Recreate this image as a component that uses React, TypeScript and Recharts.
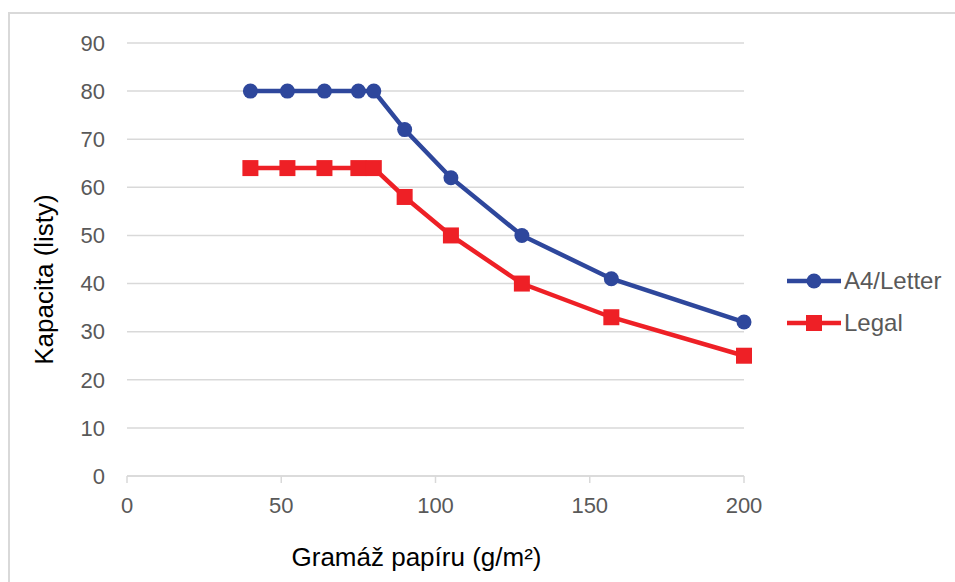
import React from "react";
import {
  LineChart,
  Line,
  XAxis,
  YAxis,
  CartesianGrid,
} from "recharts";

const gramaz = [40, 52, 64, 75, 80, 90, 105, 128, 157, 200];
const a4Letter = [80, 80, 80, 80, 80, 72, 62, 50, 41, 32];
const legal = [64, 64, 64, 64, 64, 58, 50, 40, 33, 25];
const xTicks = [0, 50, 100, 150, 200];
const yTicks = [0, 10, 20, 30, 40, 50, 60, 70, 80, 90];

const BLUE = "#2E479C";
const RED = "#EE2026";
const FONT = "'Liberation Sans', Arial, sans-serif";

const data = gramaz.map((g, i) => ({ g, a4: a4Letter[i], legal: legal[i] }));

const SquareDot = (props: any) => {
  const { cx, cy } = props;
  if (cx == null || cy == null) return null;
  return <rect x={cx - 8} y={cy - 8} width={16} height={16} fill={RED} />;
};

const YTitle = ({ viewBox }: any) => {
  const cy = viewBox.y + viewBox.height / 2 + 20;
  return (
    <text
      x={44}
      y={cy}
      transform={`rotate(-90, 44, ${cy})`}
      textAnchor="middle"
      dominantBaseline="central"
      fontSize={26}
      fontFamily={FONT}
      fill="#000"
    >
      Kapacita (listy)
    </text>
  );
};

const XTitle = ({ viewBox }: any) => {
  const cx = viewBox.x + viewBox.width / 2 - 19;
  return (
    <text
      x={cx}
      y={557}
      textAnchor="middle"
      dominantBaseline="central"
      fontSize={26}
      fontFamily={FONT}
      fill="#000"
    >
      Gramáž papíru (g/m²)
    </text>
  );
};

const legendItems = [
  { name: "A4/Letter", color: BLUE, shape: "circle", y: 281 },
  { name: "Legal", color: RED, shape: "square", y: 323 },
];

export default function App() {
  return (
    <div
      style={{
        position: "fixed",
        left: 0,
        top: 0,
        width: 955,
        height: 582,
        background: "#fff",
        overflow: "hidden",
        fontFamily: FONT,
      }}
    >
      <div
        style={{
          position: "absolute",
          left: 8,
          top: 12,
          width: 1000,
          height: 700,
          borderLeft: "2px solid #d9d9d9",
          borderTop: "2px solid #d9d9d9",
        }}
      />
      <div style={{ position: "absolute", left: 0, top: 0 }}>
        <LineChart
          width={955}
          height={582}
          data={data}
          margin={{ top: 43, right: 211, bottom: 46, left: 0 }}
        >
          <CartesianGrid
            vertical={false}
            stroke="#d9d9d9"
            strokeWidth={1.5}
          />
          <XAxis
            dataKey="g"
            type="number"
            domain={[0, 200]}
            ticks={xTicks}
            height={60}
            stroke="#d9d9d9"
            strokeWidth={1.5}
            tickSize={7}
            tickMargin={14}
            tick={{ fill: "#595959", fontSize: 22, fontFamily: FONT }}
            label={<XTitle />}
          />
          <YAxis
            type="number"
            domain={[0, 90]}
            ticks={yTicks}
            width={127}
            axisLine={false}
            tickLine={false}
            tickSize={0}
            tickMargin={22}
            tick={{ fill: "#595959", fontSize: 22, fontFamily: FONT }}
            label={<YTitle />}
          />
          <Line
            dataKey="a4"
            name="A4/Letter"
            stroke={BLUE}
            strokeWidth={4.5}
            dot={{ r: 7.5, fill: BLUE, stroke: BLUE, strokeWidth: 0 }}
            isAnimationActive={false}
          />
          <Line
            dataKey="legal"
            name="Legal"
            stroke={RED}
            strokeWidth={4.5}
            dot={<SquareDot />}
            isAnimationActive={false}
          />
        </LineChart>
      </div>
      {legendItems.map((it) => (
        <div
          key={it.name}
          style={{
            position: "absolute",
            left: 786,
            top: it.y - 16,
            height: 32,
            display: "flex",
            alignItems: "center",
          }}
        >
          <svg width={56} height={32}>
            <line x1={1} y1={16} x2={55} y2={16} stroke={it.color} strokeWidth={4.5} />
            {it.shape === "circle" ? (
              <circle cx={28} cy={16} r={7.5} fill={it.color} />
            ) : (
              <rect x={20} y={8} width={16} height={16} fill={it.color} />
            )}
          </svg>
          <span style={{ fontSize: 24, color: "#595959", marginLeft: 2 }}>
            {it.name}
          </span>
        </div>
      ))}
    </div>
  );
}
